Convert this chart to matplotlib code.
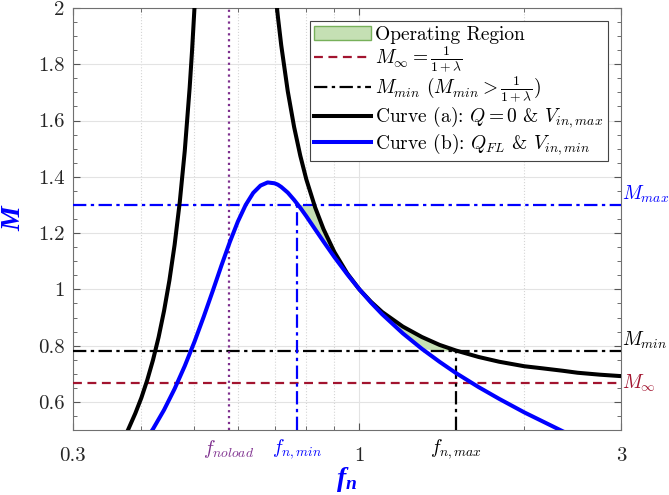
import numpy as np
import matplotlib
matplotlib.use("Agg")
import matplotlib.pyplot as plt
from matplotlib.ticker import FixedLocator, MultipleLocator, NullFormatter
from matplotlib.patches import Patch
from matplotlib.lines import Line2D

plt.rcParams['font.family'] = 'cmr10'
plt.rcParams['mathtext.fontset'] = 'cm'
plt.rcParams['axes.formatter.use_mathtext'] = True
plt.rcParams['mathtext.it'] = 'Liberation Serif:bold:italic'

# curve (a), Q = 0, left branch (below the resonance pole)
fn_a_left = [0.37, 0.378, 0.39, 0.40, 0.41, 0.42, 0.43, 0.44, 0.45, 0.46,
             0.47, 0.48, 0.49, 0.495, 0.50]
m_a_left = [0.465, 0.500, 0.560, 0.615, 0.678, 0.749, 0.830, 0.924, 1.032, 1.159,
            1.310, 1.492, 1.717, 1.850, 2.000]

# curve (b), full load, rising part
fn_b_left = [0.41, 0.42, 0.44, 0.46, 0.48, 0.50, 0.52, 0.54, 0.56, 0.58,
             0.60, 0.62, 0.64, 0.66, 0.68]
m_b_left = [0.473, 0.504, 0.572, 0.647, 0.728, 0.814, 0.904, 0.995, 1.085, 1.168,
            1.241, 1.300, 1.343, 1.369, 1.380]

# shared grid above the pole, both curves
fn_r = [0.70, 0.71, 0.72, 0.74, 0.76, 0.78, 0.80, 0.83, 0.86, 0.90, 0.95, 1.00,
        1.05, 1.10, 1.20, 1.30, 1.40, 1.50, 1.65, 1.80, 2.00, 2.15, 2.35, 2.50,
        2.75, 3.00]
m_a_r = [2.085, 1.968, 1.867, 1.704, 1.577, 1.475, 1.391, 1.292, 1.214, 1.133,
         1.057, 1.000, 0.956, 0.920, 0.868, 0.831, 0.803, 0.783, 0.760, 0.743,
         0.727, 0.720, 0.711, 0.704, 0.697, 0.692]
m_b_r = [1.377, 1.372, 1.364, 1.344, 1.318, 1.290, 1.260, 1.214, 1.170, 1.115,
         1.054, 1.000, 0.953, 0.912, 0.844, 0.789, 0.743, 0.703, 0.653, 0.611,
         0.563, 0.533, 0.496, 0.472, 0.437, 0.406]

M_inf = 0.667
M_min = 0.78
M_max = 1.3
f_noload = 0.577
fn_min = 0.769
fn_max = 1.5

x_ticks = [0.3, 1, 3]
x_ticklabels = ['0.3', '1', '3']
x_minor = [0.4, 0.5, 0.6, 0.7, 0.8, 0.9, 2]

red = '#A2142F'
purple = '#7E2F8E'
green = '#C5E0B4'
dashdot = (0, (6, 2, 1.5, 2))

fig = plt.figure(figsize=(6.69, 4.95), dpi=100)
ax = fig.add_axes([0.109, 0.131, 0.819, 0.853])

fn_r_arr = np.array(fn_r)
upper = np.minimum(m_a_r, M_max)
lower = np.maximum(m_b_r, M_min)
ax.fill_between(fn_r_arr, lower, upper,
                where=(upper >= lower) & (fn_r_arr <= fn_max),
                interpolate=True, color=green, edgecolor='none', zorder=2)

ax.axhline(M_inf, color=red, ls=(0, (4, 2.5)), lw=1.6, zorder=3)
ax.axhline(M_min, color='black', ls=dashdot, lw=1.6, zorder=3)
ax.axhline(M_max, color='blue', ls=dashdot, lw=1.6, zorder=3)
ax.axvline(f_noload, color=purple, ls=':', lw=1.6, zorder=3)
ax.plot([fn_min, fn_min], [0.5, M_max], color='blue', ls=dashdot, lw=1.6, zorder=3)
ax.plot([fn_max, fn_max], [0.5, M_min], color='black', ls=dashdot, lw=1.6, zorder=3)

ax.plot(fn_a_left, m_a_left, color='black', lw=2.9, zorder=4)
ax.plot(fn_r, m_a_r, color='black', lw=2.9, zorder=4)
ax.plot(fn_b_left + fn_r, m_b_left + m_b_r, color='blue', lw=2.9, zorder=5)

ax.set_xscale('log')
ax.set_xlim(0.3, 3)
ax.set_ylim(0.5, 2)
ax.xaxis.set_major_locator(FixedLocator(x_ticks))
ax.set_xticklabels(x_ticklabels)
ax.xaxis.set_minor_locator(FixedLocator(x_minor))
ax.xaxis.set_minor_formatter(NullFormatter())
ax.yaxis.set_major_locator(MultipleLocator(0.2))
ax.yaxis.set_minor_locator(MultipleLocator(0.05))
ax.yaxis.set_major_formatter(lambda v, p: f'{v:g}')

ax.grid(True, which='major', color='#e3e3e3', lw=0.8)
ax.grid(True, which='minor', axis='x', color='#d5d5d5', ls=':', lw=0.8)
ax.tick_params(which='both', direction='in', top=True, right=True,
               colors='#555555', labelcolor='#262626', labelsize=15)
ax.tick_params(which='major', length=5)
ax.tick_params(which='minor', length=3)
ax.tick_params(axis='x', which='major', pad=12)
ax.tick_params(axis='y', which='major', pad=6)
for s in ax.spines.values():
    s.set_color('#707070')

ax.set_ylabel('M', color='blue', fontsize=20, family='Liberation Serif',
              fontstyle='italic', fontweight='bold', labelpad=8)
ax.set_xlabel('$f_n$', color='blue', fontsize=20, math_fontfamily='custom',
              labelpad=0)

ax.text(3.02, M_max, '$M_{max}$', color='blue', fontsize=14, va='bottom',
        ha='left')
ax.text(3.02, M_min, '$M_{min}$', color='black', fontsize=14, va='bottom',
        ha='left')
ax.text(3.02, M_inf, r'$M_{\infty}$', color=red, fontsize=14, va='center',
        ha='left')
lab_y = -0.045
tr = ax.get_xaxis_transform()
ax.text(f_noload, lab_y, '$f_{noload}$', color=purple, fontsize=14,
        ha='center', va='center', transform=tr)
ax.text(fn_min, lab_y, '$f_{n,min}$', color='blue', fontsize=14,
        ha='center', va='center', transform=tr)
ax.text(fn_max, lab_y, '$f_{n,max}$', color='black', fontsize=14,
        ha='center', va='center', transform=tr)

handles = [
    Patch(facecolor=green, edgecolor='#77b05a', lw=1),
    Line2D([], [], color=red, ls=(0, (4, 2.5)), lw=1.6),
    Line2D([], [], color='black', ls=dashdot, lw=1.6),
    Line2D([], [], color='black', lw=2.9),
    Line2D([], [], color='blue', lw=2.9),
]
labels = [
    'Operating Region',
    r'$M_{\infty} = \frac{1}{1+\lambda}$',
    r'$M_{min}$ $(M_{min} > \frac{1}{1+\lambda})$',
    r'Curve (a): $Q = 0$ & $V_{in,max}$',
    r'Curve (b): $Q_{FL}$ & $V_{in,min}$',
]
leg = ax.legend(handles, labels, loc='upper right', fontsize=14,
                bbox_to_anchor=(0.976, 0.969), frameon=True, fancybox=False,
                edgecolor='#444444', framealpha=1, handlelength=2.9,
                handletextpad=0.2, labelspacing=0.02, borderpad=0.25,
                borderaxespad=0)
leg.get_frame().set_linewidth(0.8)

fig.savefig('out.png', dpi=100)
